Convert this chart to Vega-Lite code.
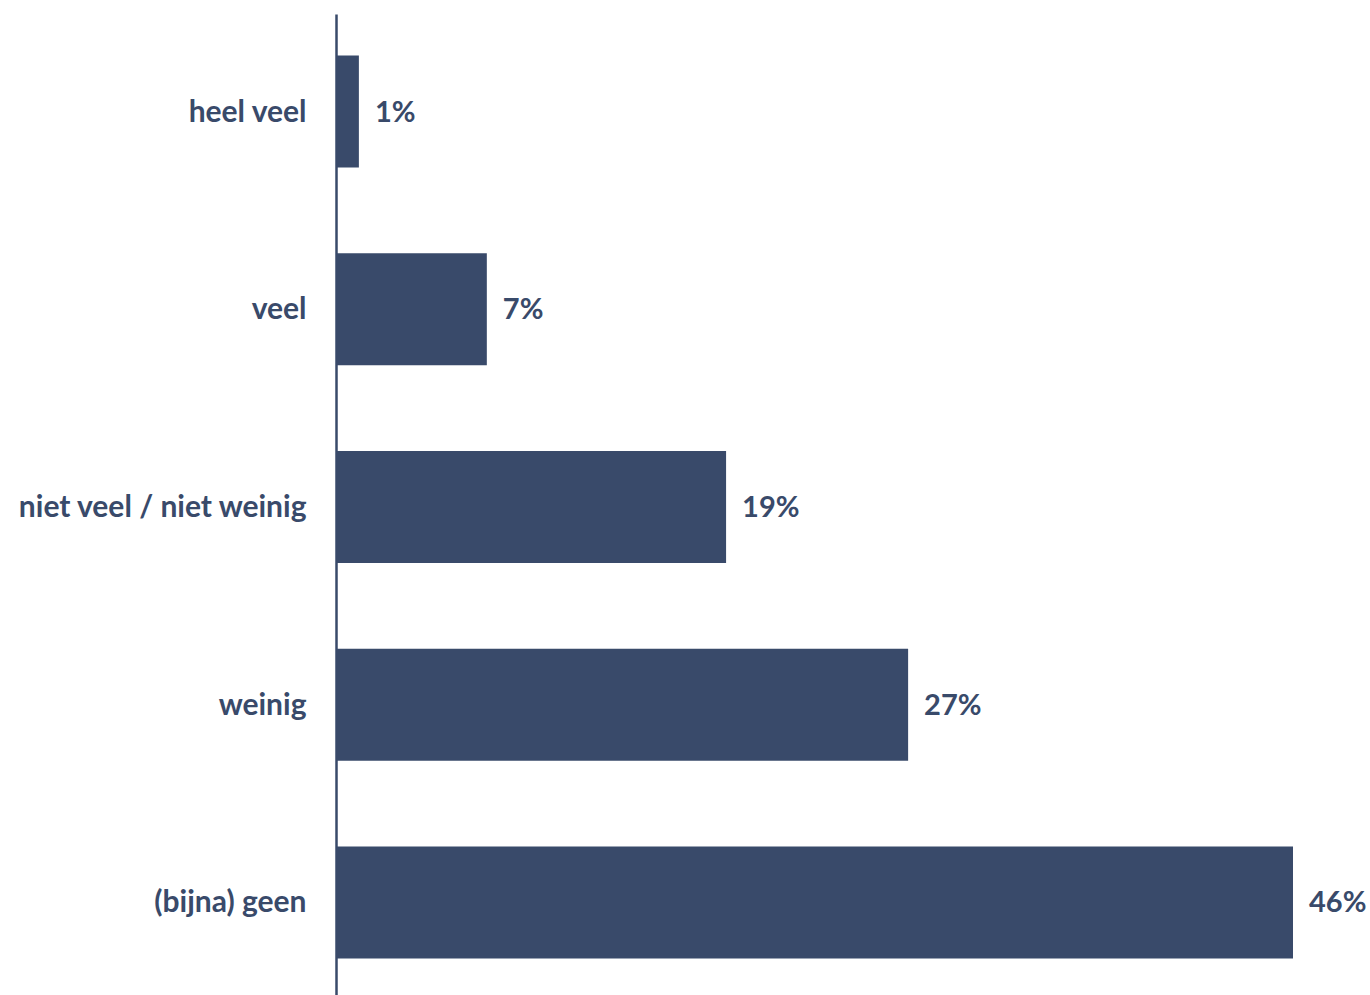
{
  "$schema": "https://vega.github.io/schema/vega-lite/v6.json",
  "autosize": "none",
  "width": 957,
  "height": 986,
  "padding": {"left": 336, "top": 14, "right": 77, "bottom": 0},
  "background": "white",
  "config": {"view": {"stroke": null}},
  "data": {
    "values": [
      {"category": "heel veel", "value": 1.1, "label": "1%"},
      {"category": "veel", "value": 7.25, "label": "7%"},
      {"category": "niet veel / niet weinig", "value": 18.75, "label": "19%"},
      {"category": "weinig", "value": 27.5, "label": "27%"},
      {"category": "(bijna) geen", "value": 46.0, "label": "46%"}
    ]
  },
  "encoding": {
    "y": {
      "field": "category",
      "type": "nominal",
      "sort": null,
      "scale": {"paddingInner": 0.433, "paddingOuter": 0.21},
      "axis": {
        "title": null,
        "ticks": false,
        "domainColor": "#394a6a",
        "domainWidth": 2.5,
        "labelFont": "Lato",
        "labelFontWeight": "bold",
        "labelFontSize": 30,
        "labelColor": "#394a6a",
        "labelPadding": 30,
        "labelLimit": 400,
        "labelBaseline": "middle",
        "labelOffset": 1
      }
    },
    "x": {
      "field": "value",
      "type": "quantitative",
      "scale": {"domain": [0, 46], "nice": false},
      "axis": null
    }
  },
  "layer": [
    {"mark": {"type": "bar", "color": "#394a6a"}},
    {
      "mark": {"type": "text", "align": "left", "baseline": "middle", "dx": 16, "dy": 1, "font": "Lato", "fontWeight": "bold", "fontSize": 29, "color": "#394a6a"},
      "encoding": {"text": {"field": "label"}}
    }
  ]
}
